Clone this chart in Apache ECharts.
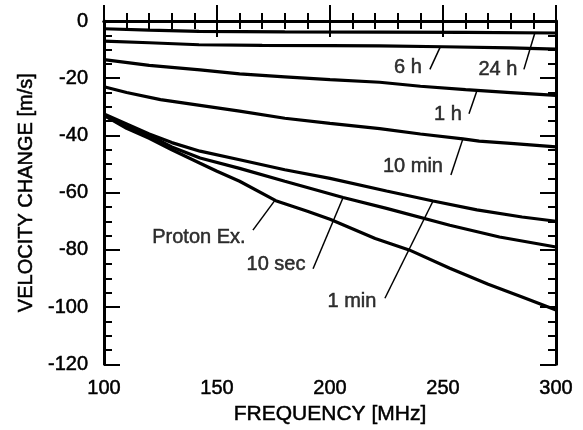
<!DOCTYPE html>
<html>
<head>
<meta charset="utf-8">
<script src="https://cdn.jsdelivr.net/npm/echarts@6/dist/echarts.min.js"></script>
<style>
  html, body { margin: 0; padding: 0; background: #fff; }
  #main { width: 583px; height: 430px; }
</style>
</head>
<body>
<div id="main"></div>
<script>
// curves: [frequency MHz, velocity change m/s]
var curve24h = [[100, -2.7], [120, -3.2], [142, -3.6], [180, -3.8], [222, -3.9], [260, -4.0], [300, -4.2]];
var curve6h = [[100, -7.0], [120, -7.6], [142, -8.3], [170, -8.5], [200, -8.6], [222, -8.7], [250, -9.0], [280, -9.4], [300, -9.8]];
var curve1h = [[100, -13.5], [120, -15.5], [142.5, -17.1], [160, -18.5], [180, -19.5], [200, -20.5], [222, -21.4], [240, -22.8], [260, -24.0], [280, -25.0], [300, -26.0]];
var curve10min = [[100, -23.0], [110, -25.0], [125, -27.5], [142.5, -29.5], [160, -31.5], [180, -34.0], [200, -35.8], [222, -37.6], [240, -39.5], [258.8, -41.2], [266, -42.0], [280, -42.8], [300, -44.0]];
var curve1min = [[100, -32.5], [110, -36.0], [120, -39.5], [130, -42.5], [142.5, -45.5], [160, -48.5], [180, -52.0], [200, -55.0], [225, -59.4], [245.6, -62.9], [265, -66.0], [285, -68.5], [300, -70.0]];
var curve10sec = [[100, -33.0], [110, -37.0], [120, -40.0], [130, -44.0], [142.5, -47.9], [160, -51.5], [180, -56.0], [205.8, -61.7], [225, -65.5], [253, -71.4], [275, -75.5], [300, -79.0]];
var curveProton = [[100, -33.0], [110, -37.5], [120, -41.0], [130, -45.0], [142.5, -49.7], [150, -52.5], [160, -56.0], [176, -62.8], [190, -66.5], [200, -69.3], [220, -76.0], [235, -80.0], [253, -86.4], [270, -92.0], [285, -96.5], [300, -101.0]];

// curve labels and their leader lines (data coords)
var labelNames = ['6 h', '24 h', '1 h', '10 min', 'Proton Ex.', '10 sec', '1 min'];
var labelPos = [[234.5, -16.2], [274.3, -16.9], [252.2, -32.8], [236.7, -50.7], [142, -75.5], [176.1, -85.2], [209.7, -97.9]];
var leaderLines = [
  [[244.2, -16.9], [248.7, -9.2]],
  [[285.8, -16.9], [290.7, -4.0]],
  [[261.5, -32.4], [265, -24.4]],
  [[253.5, -53.8], [258.8, -41.2]],
  [[165.9, -73.1], [175.7, -62.6]],
  [[192.5, -86.6], [205.8, -61.7]],
  [[224.3, -96.9], [245.6, -62.9]]
];

var xTicks = { min: 100, max: 300, interval: 50 };
var yTicks = { min: -120, max: 0, interval: 20 };

var FONT = '"Liberation Sans", Arial, Helvetica, sans-serif';
var myChart = echarts.init(document.getElementById('main'));

// a thin outline in the text colour makes the text a bit heavier, like the scan
var inkText = { color: '#000', fontFamily: FONT, textBorderColor: '#000', textBorderWidth: 0.5 };

function makeX(pos, showLabel) {
  return {
    type: 'value', position: pos,
    min: xTicks.min, max: xTicks.max, interval: xTicks.interval,
    name: showLabel ? 'FREQUENCY [MHz]' : '',
    nameLocation: 'middle', nameGap: 31,
    nameTextStyle: Object.assign({ fontSize: 21 }, inkText),
    axisLine: { show: true, lineStyle: { color: '#000', width: 3 } },
    axisTick: { show: true, inside: true, length: 16, lineStyle: { color: '#000', width: 2 } },
    minorTick: { show: true, splitNumber: 5, length: 8, lineStyle: { color: '#000', width: 2 } },
    axisLabel: Object.assign({ show: showLabel, fontSize: 20, margin: 14 }, inkText),
    splitLine: { show: false }
  };
}

function makeY(pos, showLabel) {
  return {
    type: 'value', position: pos,
    min: yTicks.min, max: yTicks.max, interval: yTicks.interval,
    name: showLabel ? 'VELOCITY CHANGE [m/s]' : '',
    nameLocation: 'middle', nameGap: 67, nameRotate: 90,
    nameTextStyle: Object.assign({ fontSize: 20 }, inkText),
    axisLine: { show: true, lineStyle: { color: '#000', width: 3 } },
    axisTick: { show: true, inside: true, length: 16, lineStyle: { color: '#000', width: 2 } },
    minorTick: { show: true, splitNumber: 4, length: 8, lineStyle: { color: '#000', width: 2 } },
    axisLabel: Object.assign({ show: showLabel, fontSize: 20, margin: 16 }, inkText),
    splitLine: { show: false }
  };
}

function curveSeries(name, data) {
  return {
    name: name, type: 'line', data: data,
    showSymbol: false, symbol: 'none', silent: true,
    lineStyle: { color: '#000', width: 3.2 }
  };
}

var series = [
  curveSeries('24 h', curve24h),
  curveSeries('6 h', curve6h),
  curveSeries('1 h', curve1h),
  curveSeries('10 min', curve10min),
  curveSeries('1 min', curve1min),
  curveSeries('10 sec', curve10sec),
  curveSeries('Proton Ex.', curveProton)
];

// leader lines
series.push({
  type: 'lines', coordinateSystem: 'cartesian2d', silent: true,
  data: leaderLines.map(function (l) { return { coords: l }; }),
  lineStyle: { color: '#000', width: 1.5, opacity: 1 }
});

// label texts
series.push({
  type: 'scatter', symbolSize: 0, silent: true,
  data: labelPos.map(function (p, i) { return { value: p, name: labelNames[i] }; }),
  label: Object.assign({ show: true, position: 'inside', formatter: '{b}', fontSize: 20 }, inkText)
});

myChart.setOption({
  animation: false,
  backgroundColor: '#fff',
  grid: { left: 104, right: 27, top: 21, bottom: 61 },
  xAxis: [makeX('bottom', true), makeX('top', false)],
  yAxis: [makeY('left', true), makeY('right', false)],
  series: series
});
</script>
</body>
</html>
